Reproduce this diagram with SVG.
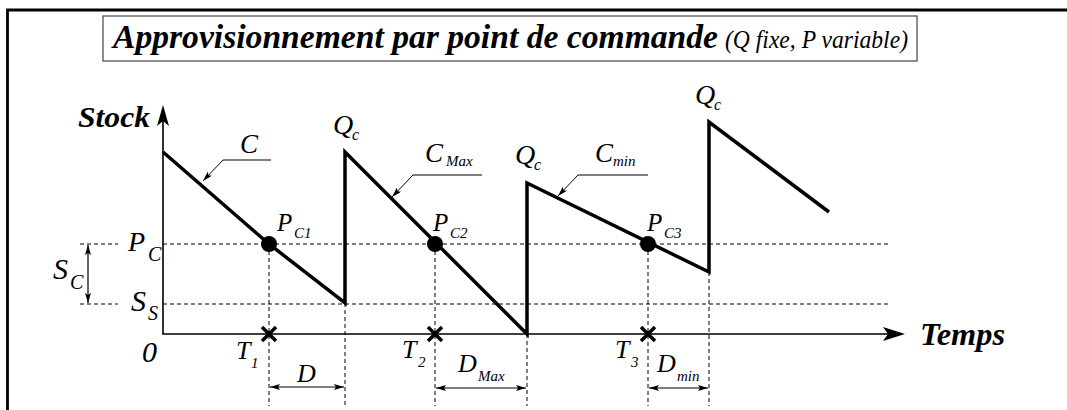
<svg xmlns="http://www.w3.org/2000/svg" width="1067" height="410" viewBox="0 0 1067 410" font-family="'Liberation Serif', 'Times New Roman', Times, serif">
<style>
text{font-family:'Liberation Serif','Times New Roman',Times,serif;font-style:italic;fill:#000}
.b{font-weight:bold}
.dash{stroke:#000;stroke-width:1;stroke-dasharray:4 3;fill:none}
.saw{stroke:#000;stroke-width:3.5;fill:none;stroke-linejoin:miter}
.ax{stroke:#000;stroke-width:1.6;fill:none}
.lead{stroke:#000;stroke-width:1;fill:none}
.dim{stroke:#000;stroke-width:1.2;fill:none;marker-start:url(#ah);marker-end:url(#ah)}
.x{stroke:#000;stroke-width:3.5}
</style>
<defs>
<marker id="ah" viewBox="0 0 10 6" refX="10" refY="3" markerWidth="10" markerHeight="6" markerUnits="userSpaceOnUse" orient="auto-start-reverse">
<path d="M0,0 L10,3 L0,6 L2,3 Z" fill="#000"/>
</marker>
<marker id="la" viewBox="0 0 10 6" refX="10" refY="3" markerWidth="10" markerHeight="6" markerUnits="userSpaceOnUse" orient="auto">
<path d="M0,0 L10,3 L0,6 L2,3 Z" fill="#000"/>
</marker>
</defs>
<rect width="1067" height="410" fill="#fff"/>
<g id="frame">
<path d="M7.5,410 L7.5,10 L1067,10" fill="none" stroke="#000" stroke-width="2.8"/>
</g>
<g id="title">
<rect x="103" y="16" width="814" height="45" fill="#fff" stroke="#444" stroke-width="1.2"/>
<text class="b" x="113" y="48" font-size="33" textLength="605" lengthAdjust="spacingAndGlyphs">Approvisionnement par point de commande</text>
<text x="725" y="48" font-size="25" textLength="183" lengthAdjust="spacingAndGlyphs">(Q fixe, P variable)</text>
</g>
<g id="guides">
<path class="dash" d="M80,244 H118 M163,244 H890 M80,304 H118 M163,304 H890"/>
<path class="dash" d="M269,244 V406 M345,303 V406 M435,244 V406 M527,334 V406 M648,244 V406 M709,272 V406"/>
</g>
<g id="axes">
<path class="ax" d="M163,120 V334 H888"/>
<polygon points="163,105 157,126 163,121 169,126" fill="#000"/>
<polygon points="905,334 883,327 888,334 883,341" fill="#000"/>
<text class="b" x="78" y="127" font-size="30" textLength="72" lengthAdjust="spacingAndGlyphs">Stock</text>
<text class="b" x="920" y="345" font-size="32" textLength="85" lengthAdjust="spacingAndGlyphs">Temps</text>
<text x="142" y="362" font-size="30">0</text>
</g>
<g id="curve">
<polyline class="saw" points="163,152 269,244 345,303 345,152 527,334 527,183 709,272 709,122 829,212"/>
</g>
<g id="points">
<circle cx="269" cy="244" r="8"/>
<circle cx="435" cy="244" r="8"/>
<circle cx="648" cy="244" r="8"/>
<text x="277" y="231" font-size="25">P</text><text x="294" y="238" font-size="15">C1</text>
<text x="433" y="231" font-size="25">P</text><text x="450" y="238" font-size="15">C2</text>
<text x="647" y="231" font-size="25">P</text><text x="664" y="238" font-size="15">C3</text>
</g>
<g id="crosses">
<path class="x" d="M262,327 L276,341 M276,327 L262,341 M428,327 L442,341 M442,327 L428,341 M641,327 L655,341 M655,327 L641,341"/>
<text x="236" y="359" font-size="26">T</text><text x="251" y="368" font-size="15">1</text>
<text x="402" y="358" font-size="26">T</text><text x="418" y="367" font-size="15">2</text>
<text x="615" y="358" font-size="26">T</text><text x="631" y="367" font-size="15">3</text>
</g>
<g id="levels">
<text x="128" y="251" font-size="28">P</text><text x="148" y="261" font-size="20">C</text>
<text x="131" y="311" font-size="30">S</text><text x="148" y="320" font-size="20">S</text>
<text x="53" y="279" font-size="30">S</text><text x="70" y="289" font-size="20">C</text>
</g>
<g id="qc">
<text x="333" y="134" font-size="28">Q</text><text x="352" y="140" font-size="16">c</text>
<text x="515" y="164" font-size="28">Q</text><text x="534" y="170" font-size="16">c</text>
<text x="695" y="104" font-size="28">Q</text><text x="714" y="110" font-size="16">c</text>
</g>
<g id="consumption">
<text x="240" y="153" font-size="27">C</text>
<text x="425" y="162" font-size="27">C</text><text x="446" y="166" font-size="15">Max</text>
<text x="595" y="162" font-size="27">C</text><text x="613" y="166" font-size="15">min</text>
</g>
<g id="connectors">
<path class="lead" d="M271,160 H223 L203,181" marker-end="url(#la)"/>
<path class="lead" d="M482,175 H413 L392,197" marker-end="url(#la)"/>
<path class="lead" d="M648,175 H578 L558,196" marker-end="url(#la)"/>
<path class="dim" d="M88,245 V303"/>
<path class="dim" d="M270,387 H344"/>
<path class="dim" d="M436,388 H526"/>
<path class="dim" d="M649,388 H708"/>
</g>
<g id="delays">
<text x="297" y="382" font-size="26">D</text>
<text x="458" y="372" font-size="26">D</text><text x="478" y="381" font-size="15">Max</text>
<text x="657" y="372" font-size="26">D</text><text x="677" y="381" font-size="15">min</text>
</g>
</svg>
